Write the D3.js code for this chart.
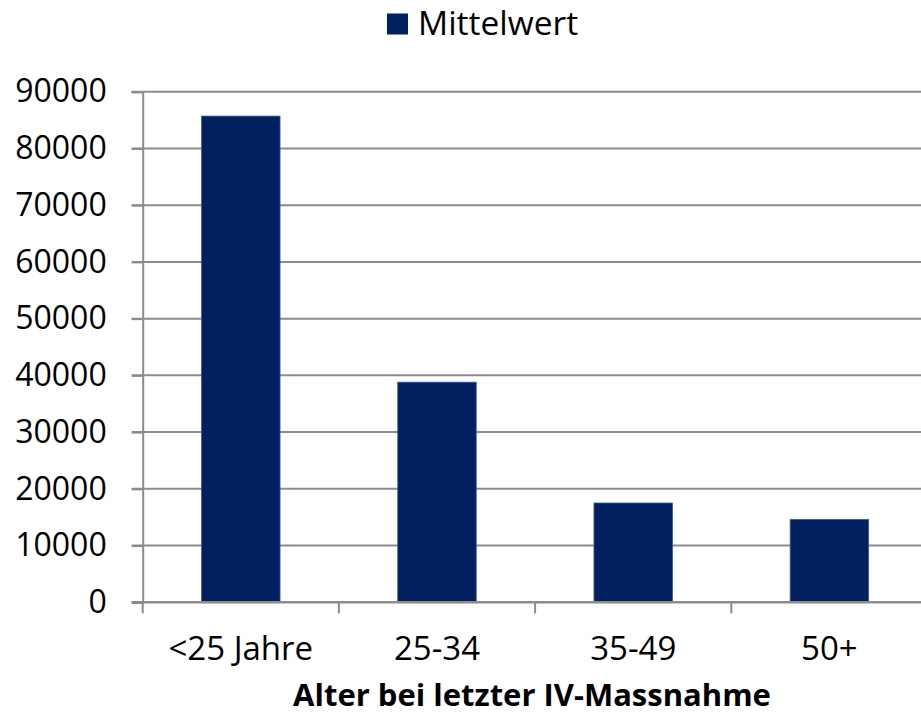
<!DOCTYPE html>
<html>
<head>
<meta charset="utf-8">
<script src="https://cdn.jsdelivr.net/npm/d3@7"></script>
<style>
  body { margin: 0; background: #fff; }
  svg { display: block; font-family: "Open Sans", sans-serif; }
</style>
</head>
<body>
<svg width="921" height="720"></svg>
<script>
// data
var categories = ["<25 Jahre", "25-34", "35-49", "50+"];
var mittelwert = [85700, 38800, 17500, 14600];
var yTicks = [0, 10000, 20000, 30000, 40000, 50000, 60000, 70000, 80000, 90000];
var seriesName = "Mittelwert";
var xTitle = "Alter bei letzter IV-Massnahme";

var svg = d3.select("svg"),
margin = {top: 91.7, right: -6.5, bottom: 117.7, left: 142.7},
width = +svg.attr("width") - margin.left - margin.right,
height = +svg.attr("height") - margin.top - margin.bottom;

var g = svg.append("g").attr("transform", "translate(" + margin.left + "," + margin.top + ")");

var x = d3.scaleBand()
  .domain(categories)
  .range([0, width])
  .paddingInner(0.6)
  .paddingOuter(0.3);

var y = d3.scaleLinear()
  .domain([0, 90000])
  .range([height, 0]);

// gridlines (extend a little to the left like tick marks)
g.append("g")
  .attr("class", "grid")
  .selectAll("line")
  .data(yTicks.slice(1))
  .enter().append("line")
    .attr("x1", -11)
    .attr("x2", width)
    .attr("y1", function(d) { return y(d); })
    .attr("y2", function(d) { return y(d); })
    .attr("stroke", "#8c8c8c")
    .attr("stroke-width", 2);

// y axis
var yAxis = g.append("g")
  .attr("class", "y axis")
  .call(d3.axisLeft(y).tickValues(yTicks).tickSize(11).tickPadding(25).tickFormat(d3.format("d")));
yAxis.select(".domain").attr("stroke", "#8c8c8c").attr("stroke-width", 2);
yAxis.selectAll(".tick line").attr("stroke", "#8c8c8c").attr("stroke-width", 2);
yAxis.selectAll("text")
  .attr("font-size", 32)
  .attr("fill", "#000")
  .attr("font-family", "Open Sans, sans-serif");

// bars
g.append("g")
  .selectAll("rect")
  .data(mittelwert)
  .enter().append("rect")
    .attr("class", "bar")
    .attr("x", function(d, i) { return x(categories[i]); })
    .attr("y", function(d) { return y(d); })
    .attr("width", x.bandwidth())
    .attr("height", function(d) { return height - y(d); })
    .attr("fill", "#002060")
    .attr("stroke", "#3a5a90")
    .attr("stroke-width", 0.8);

// x axis with ticks between categories
var xAxis = g.append("g")
  .attr("class", "x axis")
  .attr("transform", "translate(0," + height + ")");
xAxis.append("line")
  .attr("x1", -11)
  .attr("x2", width)
  .attr("stroke", "#8c8c8c")
  .attr("stroke-width", 2.5);
xAxis.selectAll(".sep")
  .data(d3.range(categories.length + 1))
  .enter().append("line")
    .attr("class", "sep")
    .attr("x1", function(i) { return i * x.step(); })
    .attr("x2", function(i) { return i * x.step(); })
    .attr("y1", 0)
    .attr("y2", 11)
    .attr("stroke", "#8c8c8c")
    .attr("stroke-width", 2);
xAxis.selectAll(".cat")
  .data(categories)
  .enter().append("text")
    .attr("class", "cat")
    .attr("x", function(d) { return x(d) + x.bandwidth() / 2; })
    .attr("y", 58)
    .attr("text-anchor", "middle")
    .attr("font-size", 33)
    .attr("fill", "#000")
    .text(function(d) { return d; });

// axis title
svg.append("text")
  .attr("x", 532)
  .attr("y", 706)
  .attr("text-anchor", "middle")
  .attr("font-size", 31)
  .attr("font-weight", "bold")
  .attr("fill", "#000")
  .text(xTitle);

// legend
var legend = svg.append("g").attr("class", "legend");
legend.append("rect")
  .attr("x", 387)
  .attr("y", 13.5)
  .attr("width", 21)
  .attr("height", 21)
  .attr("fill", "#002060");
legend.append("text")
  .attr("x", 418)
  .attr("y", 35)
  .attr("font-size", 33.5)
  .attr("fill", "#000")
  .text(seriesName);
</script>
</body>
</html>
